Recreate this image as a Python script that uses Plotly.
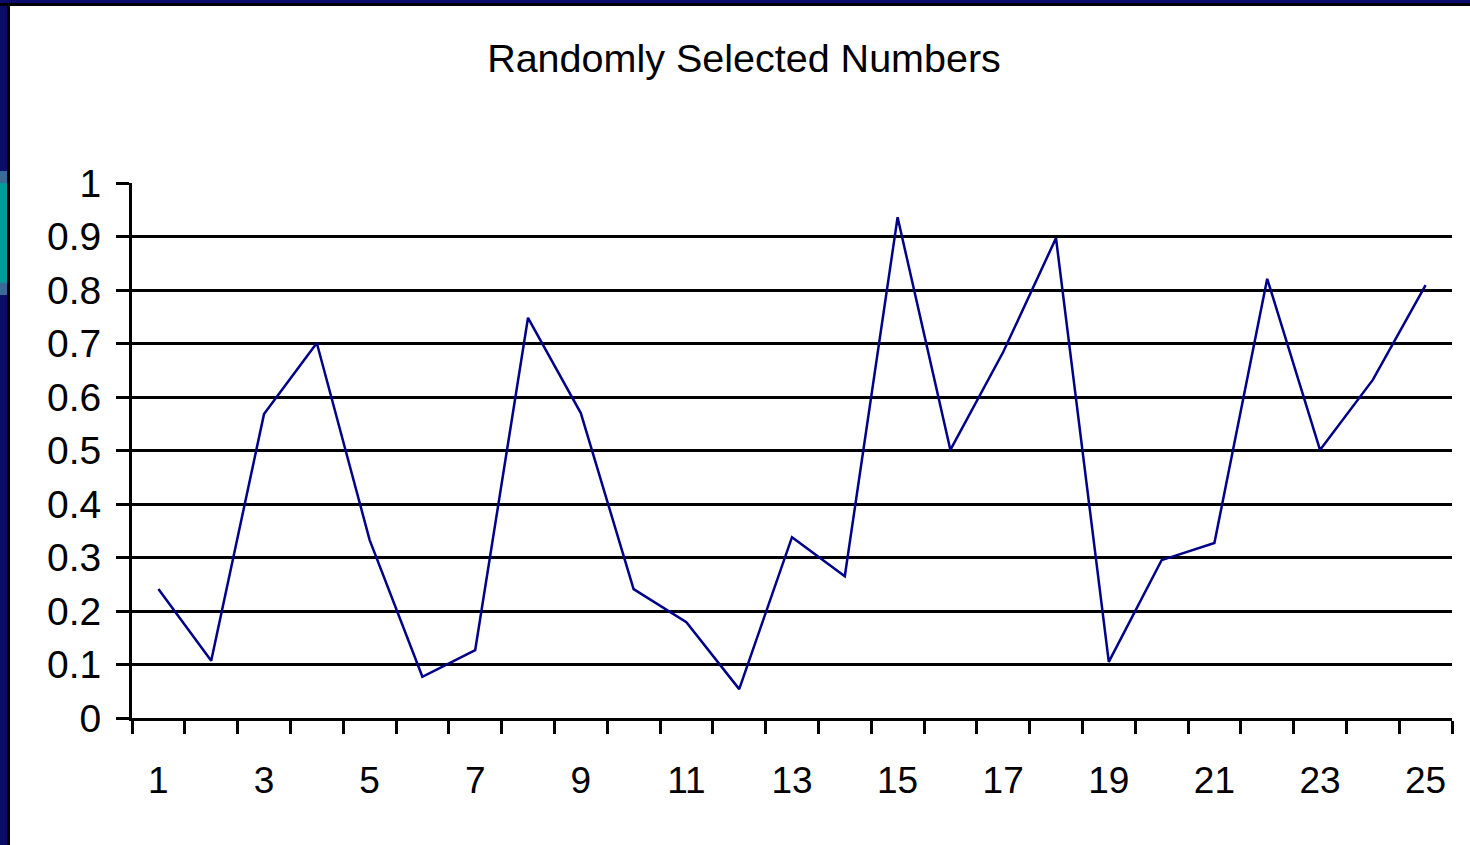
import plotly.graph_objects as go

# Draw index (1..25) and the selected value at each draw
draws = list(range(1, 26))
values = [0.241, 0.107, 0.568, 0.701, 0.333, 0.077, 0.127, 0.748, 0.570, 0.241,
          0.179, 0.054, 0.338, 0.265, 0.936, 0.501, 0.684, 0.897, 0.105, 0.295,
          0.327, 0.821, 0.501, 0.632, 0.809]
x_labels = [str(n) for n in draws if n % 2 == 1]
y_ticks = [round(0.1 * i, 1) for i in range(11)]
y_tick_text = ["0" if v == 0 else ("1" if v == 1 else f"{v:g}") for v in y_ticks]

W, H = 1470, 845
L, R, T, B = 132, 18, 183, 127
FONT = "Liberation Sans, Arial, sans-serif"


def px(x):
    return (x - L) / (W - L - R)


def py(y):
    return 1 - (y - T) / (H - T - B)


fig = go.Figure()
fig.add_trace(go.Scatter(
    x=draws, y=values, mode="lines",
    line=dict(color="#000088", width=2.5),
    hoverinfo="x+y", showlegend=False,
))

# slide frame: navy strips on the left and top edges with a thin black rule
navy = "#0b0b6b"
frame = [
    dict(x0=0, x1=10, y0=0, y1=H, color="black"),
    dict(x0=0, x1=7, y0=0, y1=H, color=navy),
    dict(x0=0, x1=W, y0=0, y1=6, color="black"),
    dict(x0=0, x1=W, y0=0, y1=3, color=navy),
    dict(x0=0, x1=7, y0=171, y1=295, color="#3a6a9a"),
    dict(x0=0, x1=7, y0=183, y1=283, color="#009b9b"),
]
shapes = [
    dict(type="rect", xref="paper", yref="paper",
         x0=px(s["x0"]), x1=px(s["x1"]), y0=py(s["y1"]), y1=py(s["y0"]),
         fillcolor=s["color"], line=dict(width=0), layer="above")
    for s in frame
]

fig.update_layout(
    width=W, height=H,
    margin=dict(l=L, r=R, t=T, b=B),
    paper_bgcolor="white", plot_bgcolor="white",
    font=dict(family=FONT, color="black"),
    title=dict(text="Randomly Selected Numbers", xref="container", yref="container",
               x=744 / W, xanchor="center", y=1 - 58 / H, yanchor="middle",
               font=dict(size=39.5, family=FONT, color="black")),
    shapes=shapes,
    xaxis=dict(
        range=[0.5, 25.5], tickmode="array",
        tickvals=[n for n in draws if n % 2 == 1], ticktext=x_labels,
        ticks="", tickfont=dict(size=37, family=FONT, color="black"),
        ticklabelstandoff=28,
        showgrid=False, zeroline=False,
        showline=True, linecolor="black", linewidth=3,
        minor=dict(tickmode="linear", tick0=0.5, dtick=1, ticks="outside",
                   ticklen=13, tickwidth=3, tickcolor="black", showgrid=False),
        fixedrange=True,
    ),
    yaxis=dict(
        range=[0, 1], tickmode="array", tickvals=y_ticks, ticktext=y_tick_text,
        ticks="outside", ticklen=13, tickwidth=3, tickcolor="black",
        tickfont=dict(size=39, family=FONT, color="black"),
        ticklabelstandoff=7,
        showgrid=True, gridcolor="black", gridwidth=3,
        zeroline=False, showline=True, linecolor="black", linewidth=3,
        fixedrange=True,
    ),
)

fig.write_html("out.html")
